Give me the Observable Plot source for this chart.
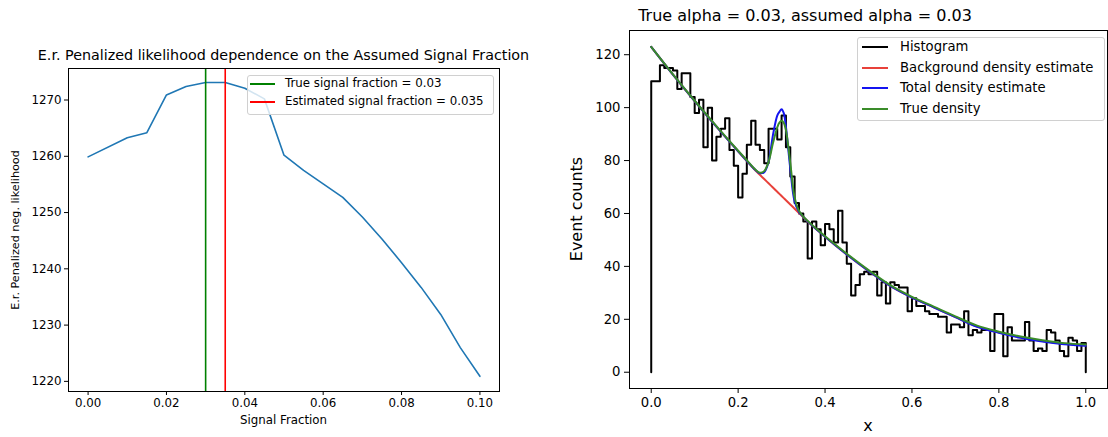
<!DOCTYPE html>
<html>
<head>
<meta charset="utf-8">
<script src="https://cdn.jsdelivr.net/npm/d3@7"></script>
<script src="https://cdn.jsdelivr.net/npm/@observablehq/plot@0.6"></script>
<style>
  body { margin: 0; background: #fff; }
  #wrap { position: relative; width: 1108px; height: 437px; overflow: hidden; font-family: "DejaVu Sans", sans-serif; color: #000; background: #fff; }
  .panel { position: absolute; top: 0; }
  .lbl { position: absolute; white-space: nowrap; transform: translate(-50%, -50%); line-height: 1; }
  .legend { position: absolute; background: rgba(255,255,255,0.8); border: 1px solid #d0d0d0; border-radius: 3px; box-sizing: border-box; }
  .sw { position: absolute; height: 0; border-top: 2px solid; }
  .lt { position: absolute; white-space: nowrap; transform: translateY(-50%); line-height: 1; }
</style>
</head>
<body>
<div id="wrap"></div>
<script>
// ---------- Left panel data ----------
const signalFractions = [0, 0.01, 0.015, 0.02, 0.025, 0.03, 0.035, 0.04, 0.045, 0.05, 0.055, 0.06, 0.065, 0.07, 0.075, 0.08, 0.085, 0.09, 0.095, 0.1];
const negLikelihood = [1259.9, 1263.3, 1264.2, 1270.9, 1272.4, 1273.1, 1273.1, 1272.1, 1270.2, 1260.2, 1257.5, 1255.1, 1252.7, 1249.2, 1245.3, 1241.1, 1236.7, 1231.9, 1226.0, 1220.9];
const trueFraction = 0.03;
const estimatedFraction = 0.035;
const leftXTicks = [0, 0.02, 0.04, 0.06, 0.08, 0.10];
const leftYTicks = [1220, 1230, 1240, 1250, 1260, 1270];

// ---------- Right panel data ----------
const histCounts = [
  110, 110, 116, 115, 115, 114, 107, 113, 113, 104,
  98, 103, 85, 100, 80, 89, 92, 96, 84, 78,
  66, 75, 86, 95, 86, 84, 79, 92, 92, 88,
  97, 85, 74, 64, 60, 57, 43, 57, 54, 48,
  56, 54, 49, 61, 49, 41, 29, 33, 37, 38,
  37, 38, 29, 34, 26, 34, 33, 32, 32, 23,
  28, 25, 25, 23, 22, 22, 21, 21, 15, 18,
  18, 17, 23, 14, 16, 15, 16, 16, 8, 22,
  22, 6, 17, 12, 12, 12, 19, 12, 8, 9,
  8, 16, 15, 12, 8, 6, 13, 12, 8, 11
];
const curveX = [0, 0.05, 0.1, 0.15, 0.2, 0.22, 0.24, 0.25, 0.26, 0.27, 0.28, 0.29, 0.295, 0.3, 0.305, 0.31, 0.32, 0.33, 0.34, 0.35, 0.36, 0.38, 0.4, 0.45, 0.5, 0.55, 0.6, 0.65, 0.7, 0.75, 0.8, 0.85, 0.9, 0.95, 1.0];
const backgroundDensity = [123, 112.5, 102.5, 92.8, 83.5, 79.8, 76.2, 74.6, 73.0, 71.4, 69.8, 68.2, 67.4, 66.6, 65.8, 65.0, 63.4, 61.8, 60.2, 58.6, 57.0, 54.0, 51.2, 44.5, 38.3, 32.6, 28.2, 24.5, 20.8, 17.3, 15.0, 13.2, 11.8, 10.8, 10.2];
const totalDensity =      [123, 112.5, 102.5, 92.8, 83.5, 79.9, 76.4, 75.2, 75.6, 79.5, 89.5, 97.0, 98.4, 99.4, 97.9, 92.7, 77.0, 64.5, 60.6, 58.7, 57.0, 54.0, 51.2, 44.5, 38.3, 32.6, 28.2, 24.5, 20.8, 17.2, 14.9, 13.0, 11.6, 10.6, 10.0];
const trueDensity =       [123, 112.6, 102.6, 93.0, 83.7, 80.1, 76.5, 75.4, 76.0, 79.5, 86.5, 92.5, 94.3, 95.0, 94.3, 91.5, 79.0, 66.0, 61.0, 58.8, 57.2, 54.2, 51.4, 44.8, 38.6, 32.9, 28.5, 24.8, 21.1, 17.6, 15.3, 13.5, 12.1, 11.0, 10.5];
const rightXTicks = [0, 0.2, 0.4, 0.6, 0.8, 1.0];
const rightYTicks = [0, 20, 40, 60, 80, 100, 120];

const wrap = document.getElementById("wrap");

// ---------- Left plot ----------
const leftRows = signalFractions.map((f, i) => ({f, v: negLikelihood[i]}));
const left = Plot.plot({
  width: 520, height: 437,
  marginLeft: 68, marginRight: 21, marginTop: 68, marginBottom: 46,
  x: {domain: [-0.005, 0.105]},
  y: {domain: [1218.2, 1275.6]},
  style: {fontFamily: "DejaVu Sans", fontSize: "11.8px", color: "#000", background: "transparent"},
  marks: [
    Plot.line(leftRows, {x: "f", y: "v", stroke: "#1f77b4", strokeWidth: 1.6}),
    Plot.ruleX([trueFraction], {stroke: "green", strokeWidth: 1.6}),
    Plot.ruleX([estimatedFraction], {stroke: "red", strokeWidth: 1.6}),
    Plot.axisX({ticks: leftXTicks, tickFormat: d3.format(".2f"), tickSize: 4, tickPadding: 3, label: null}),
    Plot.axisY({ticks: leftYTicks, tickFormat: d3.format("d"), tickSize: 4, tickPadding: 3, label: null}),
    Plot.frame({stroke: "#000"})
  ]
});
left.classList.add("panel");
left.style.left = "0px";
wrap.appendChild(left);

// ---------- Right plot ----------
const histRows = [{x: 0, y: 0}]
  .concat(histCounts.map((c, i) => ({x: i / histCounts.length, y: c})))
  .concat([{x: 1, y: histCounts[histCounts.length - 1]}, {x: 1, y: 0}]);
const curveRows = (arr) => curveX.map((x, i) => ({x, y: arr[i]}));
const right = Plot.plot({
  width: 568, height: 437,
  marginLeft: 89, marginRight: 1, marginTop: 30, marginBottom: 49,
  x: {domain: [-0.05, 1.05]},
  y: {domain: [-6.15, 129.15]},
  style: {fontFamily: "DejaVu Sans", fontSize: "13.2px", color: "#000", background: "transparent"},
  marks: [
    Plot.line(histRows, {x: "x", y: "y", curve: "step-after", stroke: "black", strokeWidth: 2}),
    Plot.line(curveRows(backgroundDensity), {x: "x", y: "y", curve: "catmull-rom", stroke: "#e8413a", strokeWidth: 2}),
    Plot.line(curveRows(totalDensity), {x: "x", y: "y", curve: "catmull-rom", stroke: "#1414f0", strokeWidth: 2}),
    Plot.line(curveRows(trueDensity), {x: "x", y: "y", curve: "catmull-rom", stroke: "#3a8c2a", strokeWidth: 2}),
    Plot.axisX({ticks: rightXTicks, tickFormat: d3.format(".1f"), tickSize: 5, tickPadding: 4, label: null}),
    Plot.axisY({ticks: rightYTicks, tickFormat: d3.format("d"), tickSize: 5, tickPadding: 4, label: null}),
    Plot.frame({stroke: "#000"})
  ]
});
right.classList.add("panel");
right.style.left = "540px";
wrap.appendChild(right);

// ---------- Text labels ----------
function label(text, x, y, size, rotate) {
  const d = document.createElement("div");
  d.className = "lbl";
  d.textContent = text;
  d.style.left = x + "px";
  d.style.top = y + "px";
  d.style.fontSize = size + "px";
  if (rotate) d.style.transform = "translate(-50%, -50%) rotate(-90deg)";
  wrap.appendChild(d);
}
label("E.r. Penalized likelihood dependence on the Assumed Signal Fraction", 283.5, 55, 14.3);
label("Signal Fraction", 283.5, 421, 11.8);
label("E.r. Penalized neg. likelihood", 16, 229.5, 11.2, true);
label("True alpha = 0.03, assumed alpha = 0.03", 805, 16, 16);
label("x", 868, 426, 16);
label("Event counts", 577, 209, 16, true);

// ---------- Legends ----------
function legend(box, items, fontSize) {
  const l = document.createElement("div");
  l.className = "legend";
  Object.assign(l.style, {left: box.x + "px", top: box.y + "px", width: box.w + "px", height: box.h + "px"});
  wrap.appendChild(l);
  items.forEach((it, i) => {
    const y = box.row0 + i * box.step;
    const s = document.createElement("div");
    s.className = "sw";
    Object.assign(s.style, {left: box.sx + "px", top: (y - 1) + "px", width: box.sw + "px", borderTopColor: it.color});
    wrap.appendChild(s);
    const t = document.createElement("div");
    t.className = "lt";
    t.textContent = it.text;
    Object.assign(t.style, {left: box.tx + "px", top: y + "px", fontSize: fontSize + "px"});
    wrap.appendChild(t);
  });
}
legend({x: 247, y: 75, w: 247, h: 40, row0: 84, step: 18, sx: 250, sw: 25, tx: 285},
  [{text: "True signal fraction = 0.03", color: "green"},
   {text: "Estimated signal fraction = 0.035", color: "red"}], 11.8);
legend({x: 857, y: 37, w: 248, h: 84, row0: 47, step: 20.7, sx: 862, sw: 26, tx: 900},
  [{text: "Histogram", color: "black"},
   {text: "Background density estimate", color: "#e8413a"},
   {text: "Total density estimate", color: "#1414f0"},
   {text: "True density", color: "#3a8c2a"}], 13.2);
</script>
</body>
</html>
